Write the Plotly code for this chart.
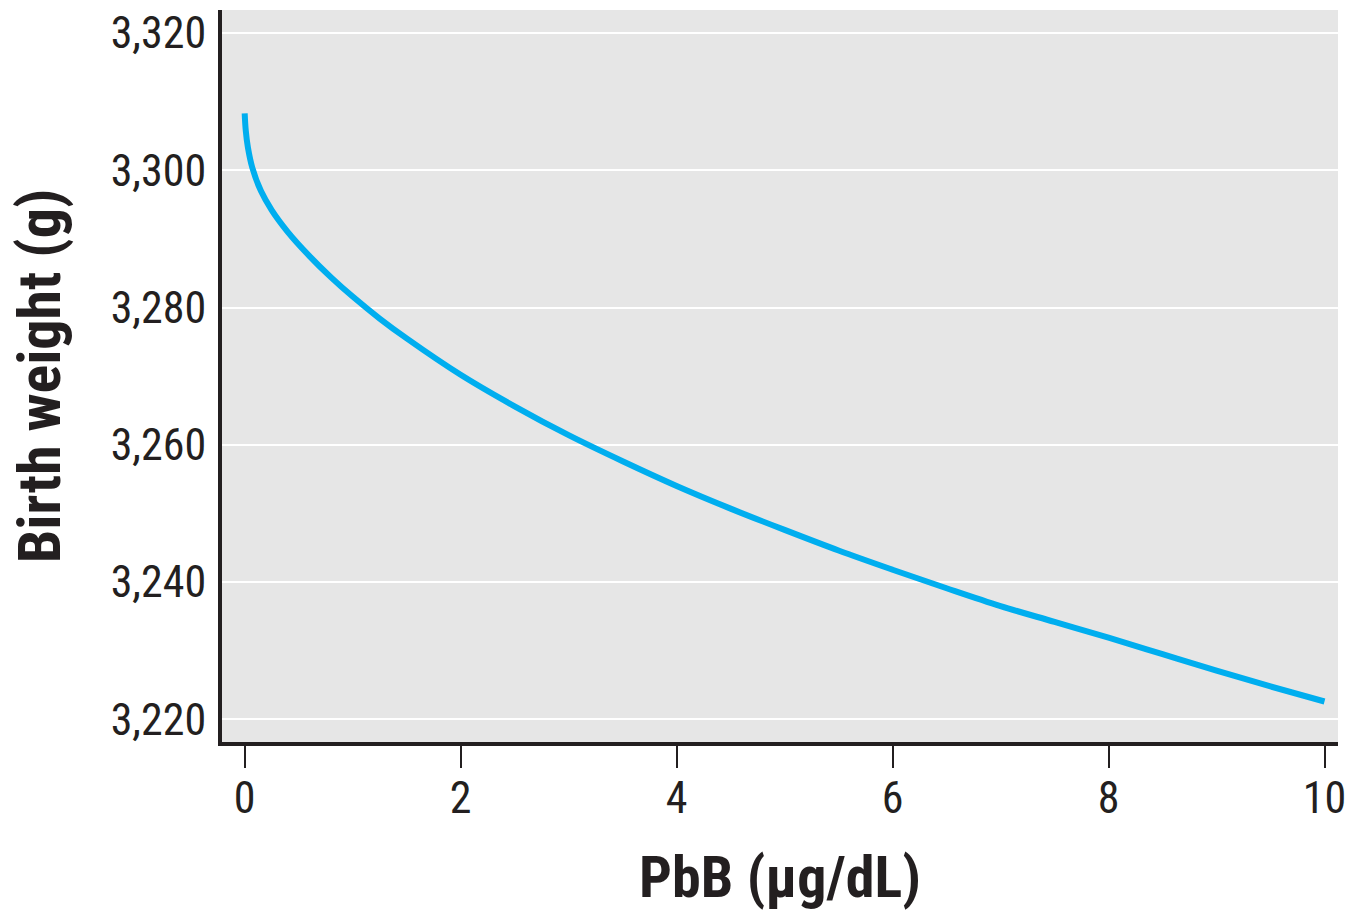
import plotly.graph_objects as go

# Values
pbb = [0.0, 0.01, 0.03, 0.07, 0.15, 0.25, 0.4, 0.6, 0.8, 1.0, 1.25, 1.5, 2.0, 2.5,
       3.0, 3.5, 4.0, 4.5, 5.0, 5.5, 6.0, 6.5, 7.0, 7.5, 8.0, 8.5, 9.0, 9.5, 10.0]
birth_weight = [3308.3, 3305.8, 3303.3, 3300.4, 3297.0, 3294.2, 3291.0, 3287.5, 3284.4,
                3281.6, 3278.4, 3275.5, 3270.2, 3265.6, 3261.4, 3257.6, 3254.0, 3250.7,
                3247.6, 3244.6, 3241.8, 3239.1, 3236.5, 3234.2, 3231.9, 3229.5, 3227.1,
                3224.8, 3222.6]
x_ticks = [0, 2, 4, 6, 8, 10]
y_ticks = [3220, 3240, 3260, 3280, 3300, 3320]
y_tick_labels = ["3,220", "3,240", "3,260", "3,280", "3,300", "3,320"]

ink = "#231f20"
font_reg = "Liberation Sans Narrow, Roboto Condensed, Arial Narrow, Liberation Sans, sans-serif"

fig = go.Figure()
fig.add_trace(go.Scatter(
    x=pbb, y=birth_weight, mode="lines",
    line=dict(color="#00aeef", width=6, shape="spline", smoothing=1.0),
    hoverinfo="skip", showlegend=False,
))

fig.update_layout(
    width=1347, height=913,
    margin=dict(l=222, r=9, t=10, b=171, autoexpand=False),
    paper_bgcolor="white",
    plot_bgcolor="#e6e6e6",
    font=dict(family=font_reg, color=ink, size=44),
    showlegend=False,
)

fig.update_xaxes(
    range=[-0.21, 10.125],
    tickvals=x_ticks,
    ticks="outside", ticklen=22, tickwidth=2, tickcolor=ink,
    ticklabelstandoff=-8, ticklabeloverflow="allow",
    showgrid=False, zeroline=False,
    showline=True, linewidth=4, linecolor=ink,
    automargin=False,
    tickfont=dict(size=44, family=font_reg, color=ink),
    title=dict(text="<b>PbB (µg/dL)</b>", font=dict(size=58, family=font_reg, color=ink), standoff=35),
)
fig.update_yaxes(
    range=[3216.7, 3323.35],
    tickvals=y_ticks, ticktext=y_tick_labels,
    ticks="", ticklabelstandoff=3, ticklabeloverflow="allow",
    showgrid=True, gridcolor="white", gridwidth=2,
    zeroline=False,
    showline=True, linewidth=4, linecolor=ink,
    automargin=False,
    tickfont=dict(size=44, family=font_reg, color=ink),
    title=dict(text="<b>Birth weight (g)</b>", font=dict(size=60, family=font_reg, color=ink), standoff=32),
)

fig.write_html(
    "out.html",
    config={"displayModeBar": False},
    post_script="document.body.style.margin='0';document.documentElement.style.overflow='hidden';",
)
